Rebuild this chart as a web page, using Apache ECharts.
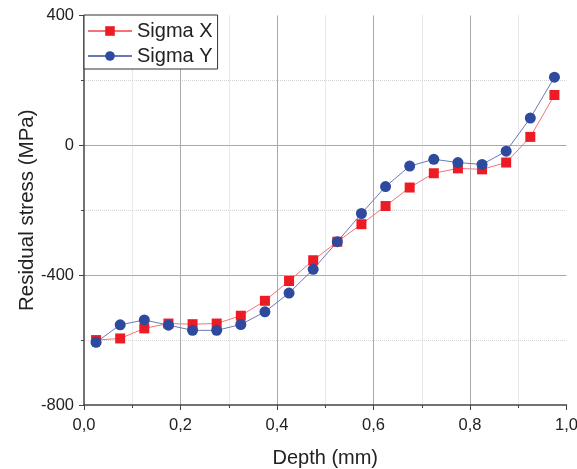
<!DOCTYPE html>
<html>
<head>
<meta charset="utf-8">
<script src="https://cdn.jsdelivr.net/npm/echarts@6/dist/echarts.min.js"></script>
<style>
html,body{margin:0;padding:0;background:#fff;}
#main{width:577px;height:469px;}
</style>
</head>
<body>
<div id="main"></div>
<script>
// depth positions (mm) and stresses (MPa)
var depth = [0.025,0.075,0.125,0.175,0.225,0.275,0.325,0.375,0.425,0.475,
             0.525,0.575,0.625,0.675,0.725,0.775,0.825,0.875,0.925,0.975];
var sigmaX = [-600,-595,-564,-549,-551,-549,-525,-479,-418,-354,
              -297,-243,-187,-130,-86,-71,-74,-53,26,155];
var sigmaY = [-607,-553,-538,-554,-570,-570,-552,-513,-455,-382,
              -297,-210,-127,-64,-43,-53,-59,-18,84,210];

function pairs(xs, ys){
	var out = [];
	for (var i = 0; i < xs.length; i++) out.push([xs[i], ys[i]]);
	return out;
}

var myChart = echarts.init(document.getElementById('main'));

var fontFam = 'Liberation Sans, Arial, sans-serif';

var option = {
	animation: false,
	textStyle: {fontFamily: fontFam},
	grid: {left: 84, top: 15.5, right: 10.5, bottom: 64, containLabel: false,
		outerBoundsMode: 'none'},
	legend: {
		left: 84, top: 15,
		orient: 'vertical',
		padding: [6, 5, 3, 3],
		itemGap: 5,
		itemWidth: 44, itemHeight: 12,
		borderColor: '#333', borderWidth: 1,
		backgroundColor: '#fff',
		textStyle: {fontSize: 20, lineHeight: 20, color: '#222', fontFamily: fontFam},
		data: ['Sigma X', 'Sigma Y']
	},
	xAxis: {
		type: 'value', min: 0, max: 1, interval: 0.2,
		name: 'Depth (mm)', nameLocation: 'middle', nameGap: 43, nameMoveOverlap: false,
		nameTextStyle: {fontSize: 20, color: '#222'},
		axisLine: {onZero: false, lineStyle: {color: '#444', width: 1.5}},
		axisTick: {inside: false, length: 5, lineStyle: {color: '#444'}},
		minorTick: {show: true, splitNumber: 2, length: 3, lineStyle: {color: '#444'}},
		axisLabel: {fontSize: 16.5, color: '#222', margin: 12,
			formatter: function (v) { return v.toFixed(1).replace('.', ','); }},
		splitLine: {show: true, showMinLine: false, showMaxLine: false,
			lineStyle: {color: '#aaa', width: 1}},
		minorSplitLine: {show: true, lineStyle: {color: '#d4d4d4', type: 'dotted', width: 1}}
	},
	yAxis: {
		type: 'value', min: -800, max: 400, interval: 400,
		name: 'Residual stress (MPa)', nameLocation: 'middle', nameGap: 46, nameMoveOverlap: false,
		nameTextStyle: {fontSize: 20.5, color: '#222'},
		axisLine: {show: true, onZero: false, lineStyle: {color: '#444', width: 1.5}},
		axisTick: {show: true, inside: false, length: 5, lineStyle: {color: '#444'}},
		minorTick: {show: true, splitNumber: 2, length: 3, lineStyle: {color: '#444'}},
		axisLabel: {fontSize: 16.5, color: '#222', margin: 10},
		splitLine: {show: true, showMinLine: false, showMaxLine: false,
			lineStyle: {color: '#aaa', width: 1}},
		minorSplitLine: {show: true, lineStyle: {color: '#d4d4d4', type: 'dotted', width: 1}}
	},
	series: [{
		name: 'Sigma X',
		type: 'line',
		data: pairs(depth, sigmaX),
		symbol: 'rect', symbolSize: 10,
		itemStyle: {color: '#ed1c24'},
		lineStyle: {color: '#f07478', width: 1}
	}, {
		name: 'Sigma Y',
		type: 'line',
		data: pairs(depth, sigmaY),
		symbol: 'circle', symbolSize: 11,
		itemStyle: {color: '#2e4a9e'},
		lineStyle: {color: '#6b78b8', width: 1}
	}]
};

myChart.setOption(option);
</script>
</body>
</html>
